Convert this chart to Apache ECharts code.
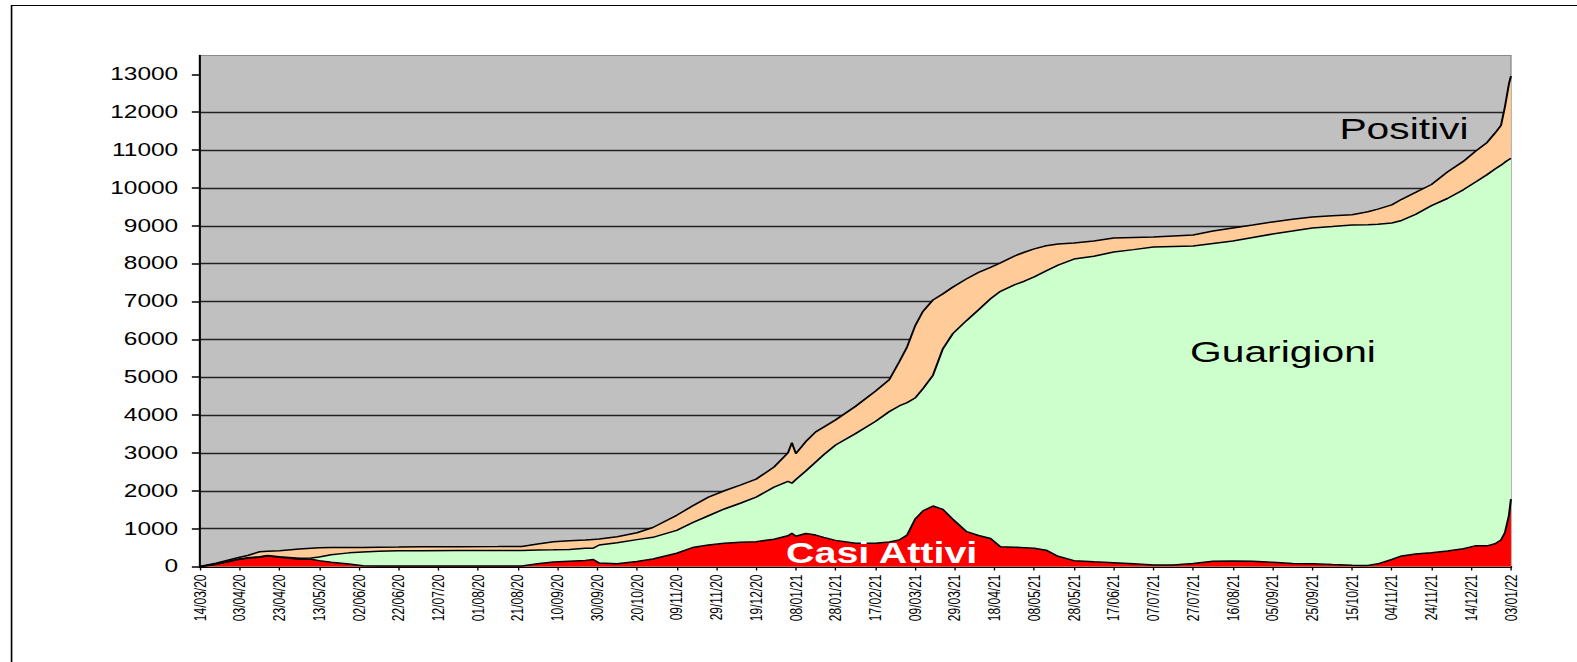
<!DOCTYPE html>
<html>
<head>
<meta charset="utf-8">
<script src="https://cdn.jsdelivr.net/npm/echarts@6/dist/echarts.min.js"></script>
<style>
html, body { margin: 0; padding: 0; background: #fff; overflow: hidden; }
/* il grafico originale e' stirato in orizzontale */
#chart { width: 1160px; height: 662px; transform: scaleX(1.3595); transform-origin: 0 0; }
</style>
</head>
<body>
<div id="chart"></div>
<script>
// giorni dal 14/03/20
const days = [0, 8, 20, 24, 30, 34, 40, 50, 56, 60, 66, 75, 82, 90, 100, 112, 130, 150, 162, 170,
  178, 186, 194, 198, 201, 210, 220, 228, 240, 248, 256, 264, 272, 280, 289, 296, 298, 300, 305, 310,
  314, 320, 330, 340, 347, 352, 356, 360, 364, 369, 374, 379, 386, 392, 398, 403, 410, 415, 420, 426,
  432, 440, 450, 460, 470, 480, 490, 500, 510, 520, 530, 540, 550, 560, 570, 580, 588, 593, 600, 605,
  612, 620, 628, 636, 642, 648, 652, 655, 657, 659, 660]

// totale positivi
const positivi = [0, 85, 243, 290, 390, 405, 418, 462, 485, 497, 500, 500, 505, 510, 515, 523, 523, 525, 530, 594,
  655, 680, 700, 715, 726, 787, 890, 1030, 1353, 1600, 1830, 2000, 2150, 2308, 2627, 3000, 3270, 2980, 3300, 3555,
  3680, 3874, 4230, 4630, 4935, 5400, 5800, 6350, 6740, 7040, 7200, 7380, 7600, 7770, 7900, 8020, 8200, 8300, 8390, 8470,
  8520, 8545, 8595, 8676, 8690, 8703, 8730, 8756, 8860, 8941, 9020, 9101, 9170, 9233, 9265, 9290, 9370, 9440, 9551, 9700,
  9880, 10090, 10420, 10700, 10960, 11200, 11450, 11650, 12150, 12750, 12950]

// guarigioni
const guarigioni = [0, 60, 200, 230, 260, 290, 260, 220, 225, 250, 310, 360, 385, 400, 418, 418, 420, 420, 425, 435,
  440, 450, 480, 485, 568, 629, 710, 770, 955, 1160, 1340, 1520, 1670, 1831, 2096, 2250, 2200, 2300, 2520, 2759,
  2950, 3210, 3510, 3830, 4090, 4240, 4330, 4450, 4700, 5050, 5750, 6150, 6500, 6780, 7070, 7270, 7440, 7535, 7650, 7810,
  7960, 8120, 8195, 8305, 8370, 8437, 8450, 8464, 8530, 8596, 8690, 8782, 8860, 8941, 8980, 9021, 9030, 9040, 9074, 9140,
  9300, 9530, 9720, 9950, 10150, 10350, 10500, 10600, 10680, 10750, 10780]

// casi attivi
const attivi = [0, 60, 190, 215, 243, 277, 243, 190, 190, 155, 110, 63, 20, 15, 12, 10, 10, 12, 15, 70,
  120, 140, 160, 185, 90, 70, 130, 200, 350, 500, 570, 612, 638, 656, 720, 810, 877, 800, 870, 830,
  770, 690, 612, 612, 650, 700, 830, 1250, 1470, 1598, 1510, 1250, 920, 820, 740, 523, 510, 497, 480, 430,
  270, 155, 125, 100, 70, 40, 42, 80, 140, 145, 140, 110, 80, 70, 50, 35, 25, 70, 185, 280,
  330, 365, 410, 470, 545, 545, 600, 700, 900, 1350, 1780]

const tickLabels = ['14/03/20', '03/04/20', '23/04/20', '13/05/20', '02/06/20', '22/06/20', '12/07/20', '01/08/20',
  '21/08/20', '10/09/20', '30/09/20', '20/10/20', '09/11/20', '29/11/20', '19/12/20', '08/01/21', '28/01/21',
  '17/02/21', '09/03/21', '29/03/21', '18/04/21', '08/05/21', '28/05/21', '17/06/21', '07/07/21', '27/07/21',
  '16/08/21', '05/09/21', '25/09/21', '15/10/21', '04/11/21', '24/11/21', '14/12/21', '03/01/22']

const yTicks = [0, 1000, 2000, 3000, 4000, 5000, 6000, 7000, 8000, 9000, 10000, 11000, 12000, 13000]

const font = 'Arial, "Liberation Sans", sans-serif'

function toPairs(values) {
  return days.map((d, i) => [d, values[i]])
}

function areaSeries(name, values, color) {
  return {
    name: name,
    type: 'line',
    data: toPairs(values),
    showSymbol: false,
    symbol: 'none',
    animation: false,
    lineStyle: { color: '#000', width: 1.5 },
    areaStyle: { color: color, opacity: 1 }
  }
}

const myChart = echarts.init(document.getElementById('chart'), null, { renderer: 'svg' })
myChart.setOption({
  backgroundColor: '#fff',
  animation: false,
  grid: {
    left: 147.1,
    top: 55.4,
    width: 964.3,
    height: 511.1,
    show: true,
    backgroundColor: '#c0c0c0',
    borderColor: '#8a8a8a',
    borderWidth: 1
  },
  xAxis: {
    type: 'value',
    min: 0,
    max: 660,
    interval: 20,
    axisLine: { lineStyle: { color: '#000', width: 2 } },
    axisTick: { length: 4, lineStyle: { color: '#000', width: 1 } },
    splitLine: { show: false },
    axisLabel: {
      rotate: 90,
      margin: 8,
      fontSize: 12,
      fontFamily: font,
      color: '#000',
      showMinLabel: true,
      showMaxLabel: true,
      formatter: v => tickLabels[Math.round(v / 20)] || ''
    }
  },
  yAxis: {
    type: 'value',
    min: 0,
    max: 13500,
    interval: 1000,
    axisLine: { show: true, lineStyle: { color: '#000', width: 1.5 } },
    axisTick: { show: true, length: 6, customValues: yTicks, lineStyle: { color: '#000', width: 1.5 } },
    splitLine: { show: true, showMaxLine: false, lineStyle: { color: '#222', width: 1.3 } },
    axisLabel: {
      margin: 16,
      fontSize: 18,
      fontFamily: font,
      color: '#000',
      customValues: yTicks,
      formatter: v => String(v)
    }
  },
  series: [
    areaSeries('Positivi', positivi, '#ffcc99'),
    areaSeries('Guarigioni', guarigioni, '#ccffcc'),
    areaSeries('Casi Attivi', attivi, '#ff0000')
  ],
  graphic: [
    {
      type: 'rect',
      shape: { x: 8.5, y: 5.5, width: 2000, height: 1000 },
      style: { fill: 'none', stroke: '#000', lineWidth: 1.2 },
      z: 100
    },
    {
      type: 'text', x: 1032.7, y: 129, z: 100,
      style: { text: 'Positivi', font: '30px ' + font, fill: '#000', textAlign: 'center', textVerticalAlign: 'middle' }
    },
    {
      type: 'text', x: 943.7, y: 352, z: 100,
      style: { text: 'Guarigioni', font: '30px ' + font, fill: '#000', textAlign: 'center', textVerticalAlign: 'middle' }
    },
    {
      type: 'text', x: 648.5, y: 553, z: 100,
      style: { text: 'Casi Attivi', font: 'bold 29px ' + font, fill: '#fff', textAlign: 'center', textVerticalAlign: 'middle' }
    }
  ]
})
</script>
</body>
</html>
